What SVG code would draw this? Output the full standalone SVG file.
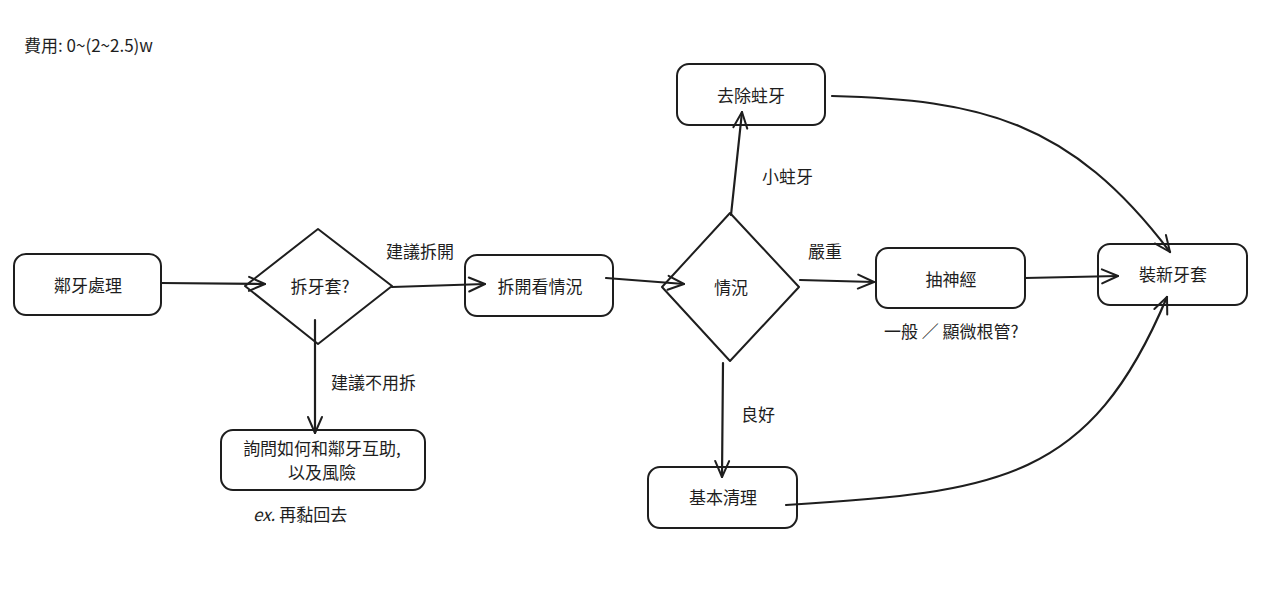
<svg xmlns="http://www.w3.org/2000/svg" width="1279" height="614" viewBox="0 0 1279 614">
<style>
.box{fill:#fff;stroke:#1e1e1e;stroke-width:2;}
.t{font-family:"Noto Sans CJK TC","Noto Sans",sans-serif;font-size:17px;fill:#1e1e1e;}
.c{text-anchor:middle;dominant-baseline:central;}
.ln{fill:none;stroke:#1e1e1e;stroke-width:2.2;stroke-linecap:round;}
</style>
<defs>
<marker id="ah" viewBox="0 0 20 20" refX="18" refY="10" markerWidth="20" markerHeight="20" markerUnits="userSpaceOnUse" orient="auto">
<path d="M2,3 L18,10 L2,17" fill="none" stroke="#1e1e1e" stroke-width="2" stroke-linecap="round" stroke-linejoin="round"/>
</marker>
</defs>
<rect width="1279" height="614" fill="#fff"/>
<text class="t" x="24" y="44" dominant-baseline="central" font-size="15">費用: 0~(2~2.5)w</text>
<g id="n1"><rect class="box" x="14" y="254" width="147" height="61" rx="12"/><text class="t c" x="88" y="284">鄰牙處理</text></g>
<g id="n2"><path class="box" d="M318,229 L392,286 L318,344 L245,286 Z" stroke-linejoin="round"/><text class="t c" x="320" y="285">拆牙套?</text></g>
<g id="n3"><rect class="box" x="221" y="430" width="204" height="60" rx="12"/><text class="t c" x="322" y="447">詢問如何和鄰牙互助,</text><text class="t c" x="322" y="471">以及風險</text></g>
<text class="t" x="253" y="513" dominant-baseline="central"><tspan font-style="italic">ex.</tspan> 再黏回去</text>
<g id="n4"><rect class="box" x="465" y="255" width="148" height="61" rx="12"/><text class="t c" x="540" y="285">拆開看情況</text></g>
<g id="n5"><path class="box" d="M730,213 L799,287 L730,361 L662,287 Z" stroke-linejoin="round"/><text class="t c" x="731" y="286">情況</text></g>
<g id="n6"><rect class="box" x="677" y="64" width="148" height="61" rx="12"/><text class="t c" x="751" y="94">去除蛀牙</text></g>
<g id="n7"><rect class="box" x="876" y="248" width="149" height="60" rx="12"/><text class="t c" x="951" y="278">抽神經</text></g>
<text class="t" x="884" y="330" dominant-baseline="central" xml:space="preserve">一般 ／ 顯微根管?</text>
<g id="n8"><rect class="box" x="1098" y="244" width="149" height="61" rx="12"/><text class="t c" x="1173" y="273">裝新牙套</text></g>
<g id="n9"><rect class="box" x="648" y="467" width="149" height="61" rx="12"/><text class="t c" x="723" y="496">基本清理</text></g>
<g id="connectors">
<path class="ln" d="M161,283 L265,284" marker-end="url(#ah)"/>
<path class="ln" d="M392,287 L485,284" marker-end="url(#ah)"/>
<path class="ln" d="M315,320 L315,433" marker-end="url(#ah)"/>
<path class="ln" d="M606,278 L684,284" marker-end="url(#ah)"/>
<path class="ln" d="M731,215 L742,112" marker-end="url(#ah)"/>
<path class="ln" d="M800,280 L874,282" marker-end="url(#ah)"/>
<path class="ln" d="M723,363 L722,477" marker-end="url(#ah)"/>
<path class="ln" d="M1025,278 L1118,276" marker-end="url(#ah)"/>
<path class="ln" d="M832,96 C980,100 1070,120 1170,252" marker-end="url(#ah)"/>
<path class="ln" d="M786,505 C1000,492 1090,480 1167,297" marker-end="url(#ah)"/>
<text class="t" x="386" y="250" dominant-baseline="central">建議拆開</text>
<text class="t" x="331" y="381" dominant-baseline="central">建議不用拆</text>
<text class="t" x="762" y="175" dominant-baseline="central">小蛀牙</text>
<text class="t" x="808" y="250" dominant-baseline="central">嚴重</text>
<text class="t" x="741" y="413" dominant-baseline="central">良好</text>
</g>
</svg>
